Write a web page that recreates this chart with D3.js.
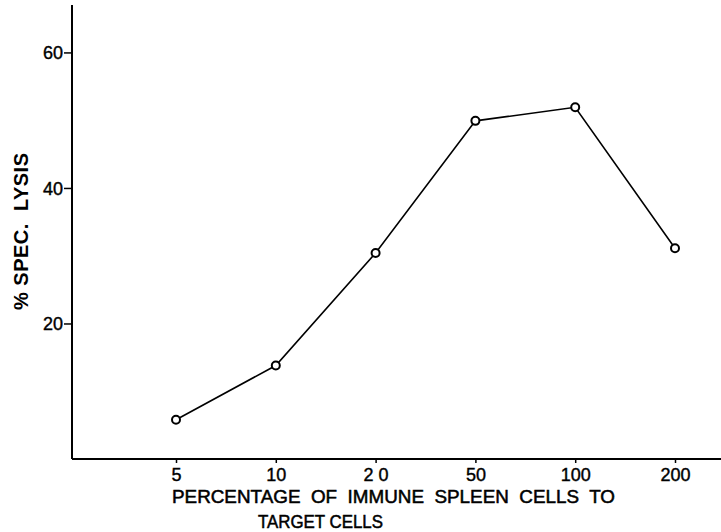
<!DOCTYPE html>
<html>
<head>
<meta charset="utf-8">
<script src="https://cdn.jsdelivr.net/npm/d3@7"></script>
<style>
  body { margin: 0; background: #fff; }
  svg { display: block; font-family: 'Liberation Sans', Arial, sans-serif; }
  text { white-space: pre; }
</style>
</head>
<body>
<svg id="root" width="721" height="532"></svg>
<script>
// cell ratios on the x axis (evenly spaced categories)
const ratios = ['5', '10', '20', '50', '100', '200'];
const tickText = ['5', '10', '2\u00a00', '50', '100', '200'];
// % specific lysis
const lysis = [5.8, 13.8, 30.4, 49.9, 51.9, 31.1];
const yTicks = [20, 40, 60];

const svg = d3.select('#root');

const x = d3.scalePoint().domain(ratios).range([176, 675]);
const y = d3.scaleLinear().domain([0, 67]).range([459, 5]);

// y axis
const yAxis = svg.append('g')
  .attr('transform', 'translate(72,0)')
  .call(d3.axisLeft(y).tickValues(yTicks).tickSize(8).tickPadding(1).tickSizeOuter(0));
yAxis.select('.domain').attr('d', `M0,${y(67)}V${y(0)}`).attr('stroke-width', 2);
yAxis.selectAll('.tick line').attr('stroke-width', 1.5);
yAxis.selectAll('.tick text')
  .attr('font-size', 18).attr('fill', '#000').attr('dy', '0.36em')
  .attr('stroke', '#000').attr('stroke-width', 0.4);

// x axis
const xAxis = svg.append('g')
  .attr('transform', 'translate(0,459)')
  .call(d3.axisBottom(x).tickSize(4).tickPadding(5).tickFormat((d, i) => tickText[i]));
xAxis.select('.domain').attr('d', 'M72,0H721').attr('stroke-width', 2);
xAxis.selectAll('.tick line').attr('stroke-width', 1.5);
xAxis.selectAll('.tick text')
  .attr('font-size', 18).attr('fill', '#000')
  .attr('stroke', '#000').attr('stroke-width', 0.4);

// axis titles
svg.append('text')
  .attr('x', 172).attr('y', 503)
  .attr('font-size', 18).attr('stroke', '#000').attr('stroke-width', 0.5)
  .attr('textLength', 443).attr('lengthAdjust', 'spacingAndGlyphs')
  .text('PERCENTAGE  OF  IMMUNE  SPLEEN  CELLS  TO');
svg.append('text')
  .attr('x', 258).attr('y', 528)
  .attr('font-size', 18).attr('stroke', '#000').attr('stroke-width', 0.5)
  .attr('textLength', 125).attr('lengthAdjust', 'spacingAndGlyphs')
  .text('TARGET CELLS');
svg.append('text')
  .attr('transform', 'translate(28,310) rotate(-90)')
  .attr('font-size', 20).attr('font-weight', 'bold')
  .attr('textLength', 157).attr('lengthAdjust', 'spacing')
  .text('% SPEC.  LYSIS');

// data line + open circle markers
const line = d3.line().x((d, i) => x(ratios[i])).y(d => y(d));
svg.append('path')
  .datum(lysis)
  .attr('fill', 'none')
  .attr('stroke', '#000')
  .attr('stroke-width', 1.6)
  .attr('d', line);

svg.selectAll('.pt')
  .data(lysis)
  .join('circle')
  .attr('class', 'pt')
  .attr('cx', (d, i) => x(ratios[i]))
  .attr('cy', d => y(d))
  .attr('r', 4)
  .attr('fill', '#fff')
  .attr('stroke', '#000')
  .attr('stroke-width', 2);
</script>
</body>
</html>
